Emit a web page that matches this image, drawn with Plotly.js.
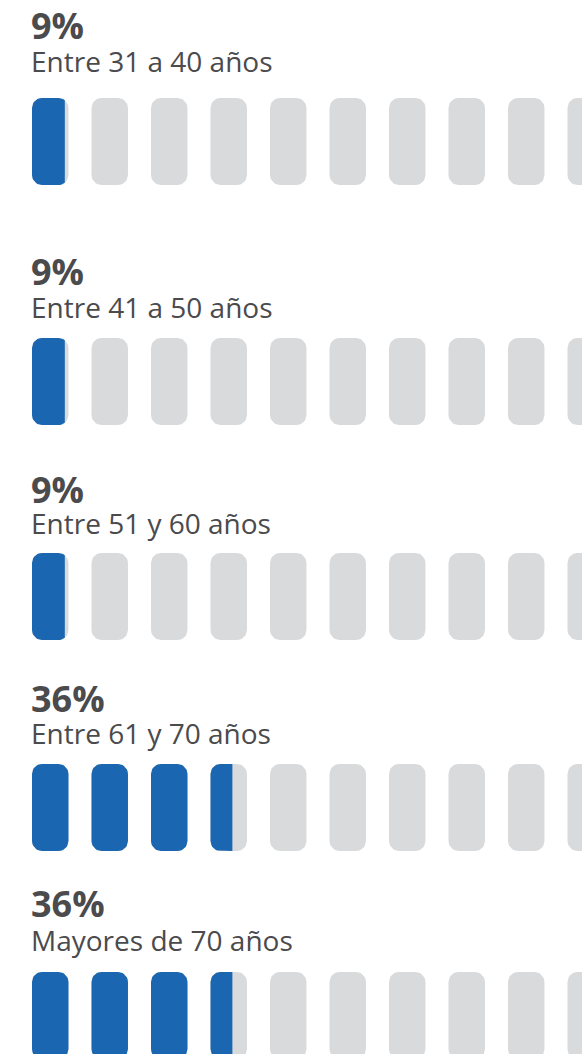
<!DOCTYPE html>
<html>
<head>
<meta charset="utf-8">
<script src="https://cdn.plot.ly/plotly-3.0.1.min.js"></script>
<style>html,body{margin:0;padding:0;background:#fff;}#chart{width:582px;height:1054px;}</style>
</head>
<body>
<div id="chart"></div>
<script>
// ---- data ----
const categories = ['Entre 31 a 40 años', 'Entre 41 a 50 años', 'Entre 51 y 60 años', 'Entre 61 y 70 años', 'Mayores de 70 años'];
const values = [9, 9, 9, 36, 36];
const pctLabels = ['9%', '9%', '9%', '36%', '36%'];
const slotCount = 10;      // each slot = 10%

// ---- layout constants (pixels / axis units) ----
const W = 582, H = 1054;
const pxPerUnit = 5.95;            // x axis: percent units
const leftPx = 32;
const slotWidth = 6.13;            // in percent units
const pillHeight = 87;             // y axis units = px
const rowTop = [98, 338, 553, 764, 972];
const pctBase = [39, 285, 502, 712, 918];
const labBase = [72, 318, 533, 744, 952];
const rX = 10 / pxPerUnit, rY = 10;
const BLUE = '#1b66b0', GRAY = '#d9dadc', TXT = '#4b4a4c';
const FONT = 'Open Sans, Noto Sans, sans-serif';

function pillPoints(x0, x1, y0, y1) {
  const pts = [];
  const n = 10;
  const corners = [
    [x1 - rX, y0 + rY, -Math.PI / 2, 0],
    [x1 - rX, y1 - rY, 0, Math.PI / 2],
    [x0 + rX, y1 - rY, Math.PI / 2, Math.PI],
    [x0 + rX, y0 + rY, Math.PI, 1.5 * Math.PI]
  ];
  corners.forEach(([cx, cy, a0, a1]) => {
    for (let k = 0; k <= n; k++) {
      const a = a0 + (a1 - a0) * k / n;
      pts.push([cx + rX * Math.cos(a), cy + rY * Math.sin(a)]);
    }
  });
  return pts;
}
function clipLeft(pts, xf) {
  const out = [];
  for (let i = 0; i < pts.length; i++) {
    const a = pts[i], b = pts[(i + 1) % pts.length];
    const ain = a[0] <= xf, bin = b[0] <= xf;
    if (ain) out.push(a);
    if (ain !== bin) {
      const t = (xf - a[0]) / (b[0] - a[0]);
      out.push([xf, a[1] + t * (b[1] - a[1])]);
    }
  }
  return out;
}

const traces = [];
categories.forEach((cat, r) => {
  const gx = [], gy = [], bx = [], by = [];
  const y0 = rowTop[r], y1 = rowTop[r] + pillHeight;
  for (let i = 0; i < slotCount; i++) {
    const x0 = i * 100 / slotCount, x1 = x0 + slotWidth;
    const pts = pillPoints(x0, x1, y0, y1);
    pts.forEach(p => { gx.push(p[0]); gy.push(p[1]); });
    gx.push(pts[0][0]); gy.push(pts[0][1]);
    gx.push(null); gy.push(null);
    const frac = Math.max(0, Math.min(1, (values[r] - x0) / (100 / slotCount)));
    if (frac > 0) {
      const xf = x0 + frac * slotWidth;
      const cp = frac >= 1 ? pts : clipLeft(pts, xf);
      cp.forEach(p => { bx.push(p[0]); by.push(p[1]); });
      bx.push(cp[0][0]); by.push(cp[0][1]);
      bx.push(null); by.push(null);
    }
  }
  traces.push({x: gx, y: gy, type: 'scatter', mode: 'lines', fill: 'toself',
    fillcolor: GRAY, line: {width: 0, color: GRAY}, hoverinfo: 'skip', showlegend: false, name: cat});
  traces.push({x: bx, y: by, type: 'scatter', mode: 'lines', fill: 'toself',
    fillcolor: BLUE, line: {width: 0, color: BLUE}, hoverinfo: 'skip', showlegend: false, name: cat});
});

const annotations = [];
categories.forEach((cat, r) => {
  const gap = labBase[r] - pctBase[r];
  annotations.push({x: 0, y: pctBase[r] + 1.4, xref: 'x', yref: 'y', xanchor: 'left', yanchor: 'middle',
    align: 'left',
    text: '<b><span style="font-size:36px">' + pctLabels[r] + '</span></b><br>' +
          '<span style="font-size:28px">' + cat + '</span>',
    showarrow: false, xshift: -3,
    font: {family: FONT, size: gap / 1.3, color: TXT}});
});

const layout = {
  width: W, height: H,
  margin: {l: 0, r: 0, t: 0, b: 0},
  paper_bgcolor: '#fff', plot_bgcolor: '#fff',
  xaxis: {range: [-leftPx / pxPerUnit, (W - leftPx) / pxPerUnit], visible: false, fixedrange: true},
  yaxis: {range: [H, 0], visible: false, fixedrange: true},
  annotations: annotations,
  showlegend: false
};
Plotly.newPlot('chart', traces, layout, {staticPlot: true});
</script>
</body>
</html>
